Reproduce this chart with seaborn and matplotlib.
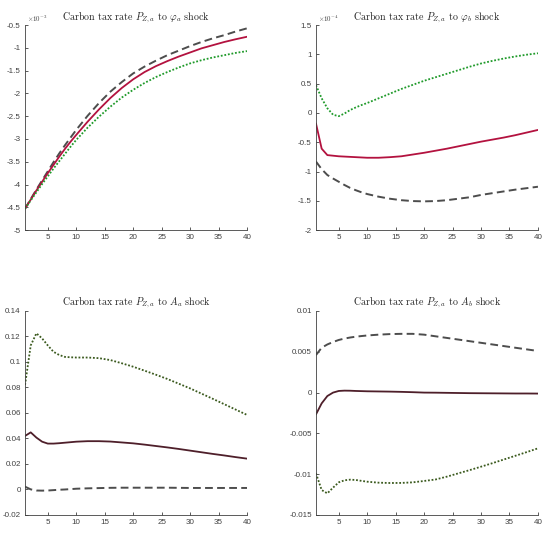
import matplotlib
matplotlib.use("Agg")
import matplotlib.pyplot as plt
import seaborn as sns
from matplotlib.ticker import FormatStrFormatter

periods = [1, 2, 3, 4, 5, 6, 7, 8, 9, 10, 12, 14, 16, 18, 20, 22, 24, 26, 28, 30, 32, 34, 36, 38, 40]

# Panel 1: response to phi_a shock (units of 1e-3)
phia_solid = [-4.53, -4.33, -4.13, -3.94, -3.75, -3.57, -3.39, -3.22, -3.06, -2.91, -2.62, -2.35, -2.10,
              -1.88, -1.69, -1.53, -1.40, -1.29, -1.19, -1.10, -1.01, -0.94, -0.87, -0.81, -0.755]
phia_dashed = [-4.53, -4.32, -4.11, -3.91, -3.71, -3.51, -3.32, -3.14, -2.97, -2.80, -2.49, -2.21, -1.96,
               -1.75, -1.56, -1.41, -1.28, -1.16, -1.06, -0.96, -0.87, -0.79, -0.72, -0.64, -0.57]
phia_dotted = [-4.53, -4.35, -4.17, -3.99, -3.82, -3.65, -3.49, -3.33, -3.17, -3.02, -2.75, -2.51, -2.29,
               -2.09, -1.92, -1.77, -1.64, -1.53, -1.43, -1.34, -1.27, -1.21, -1.16, -1.11, -1.07]

# Panel 2: response to phi_b shock (units of 1e-4)
phib_solid = [-0.18, -0.61, -0.72, -0.73, -0.74, -0.745, -0.75, -0.755, -0.76, -0.765, -0.765, -0.755, -0.74,
              -0.71, -0.68, -0.645, -0.61, -0.57, -0.53, -0.49, -0.455, -0.42, -0.38, -0.335, -0.29]
phib_dashed = [-0.83, -0.96, -1.06, -1.12, -1.175, -1.23, -1.28, -1.32, -1.355, -1.385, -1.43, -1.465, -1.49,
               -1.505, -1.51, -1.505, -1.49, -1.465, -1.44, -1.40, -1.37, -1.34, -1.31, -1.285, -1.26]
phib_dotted = [0.475, 0.25, 0.08, -0.03, -0.055, -0.01, 0.05, 0.095, 0.135, 0.17, 0.25, 0.33, 0.41,
               0.48, 0.55, 0.61, 0.67, 0.73, 0.79, 0.845, 0.89, 0.93, 0.965, 0.995, 1.02]

# Panel 3: response to A_a shock
aa_solid = [0.042, 0.0448, 0.0407, 0.0375, 0.036, 0.036, 0.0363, 0.0367, 0.0371, 0.0375, 0.0379, 0.0379, 0.0376,
            0.0369, 0.0362, 0.0352, 0.0341, 0.033, 0.0318, 0.0305, 0.0292, 0.0279, 0.0267, 0.0254, 0.0242]
aa_dashed = [0.0022, 0.0001, -0.0008, -0.0009, -0.0008, -0.0005, -0.0002, 0.0, 0.0003, 0.0006, 0.0009, 0.0011,
             0.0013, 0.0014, 0.0014, 0.0014, 0.0014, 0.0014, 0.0013, 0.0012, 0.0012, 0.0012, 0.0012, 0.0012, 0.0012]
aa_dotted = [0.082, 0.113, 0.1225, 0.1185, 0.113, 0.108, 0.1055, 0.104, 0.1037, 0.1035, 0.1035, 0.103, 0.1015,
             0.099, 0.0963, 0.0932, 0.090, 0.0867, 0.083, 0.0793, 0.0752, 0.0711, 0.0669, 0.0627, 0.0585]

# Panel 4: response to A_b shock
ab_solid = [-0.00267, -0.00132, -0.00042, 0.0, 0.0002, 0.00024, 0.00023, 0.0002, 0.00018, 0.00016, 0.00014,
            0.00012, 0.00009, 0.00005, 0.0, -0.00001, -0.00003, -0.00005, -0.00007, -0.00008, -0.00009,
            -0.0001, -0.00011, -0.00011, -0.00012]
ab_dashed = [0.0046, 0.0055, 0.0059, 0.0062, 0.00645, 0.00662, 0.00675, 0.00685, 0.00693, 0.0070, 0.0071,
             0.00717, 0.0072, 0.0072, 0.0071, 0.0069, 0.0067, 0.0065, 0.0063, 0.0061, 0.0059, 0.0057,
             0.0055, 0.0053, 0.0051]
ab_dotted = [-0.0099, -0.01194, -0.01235, -0.01165, -0.0110, -0.01075, -0.01067, -0.01071, -0.01082, -0.01092,
             -0.01104, -0.01108, -0.01107, -0.0110, -0.01083, -0.01065, -0.0103, -0.0099, -0.0095, -0.00908,
             -0.00865, -0.0082, -0.00775, -0.0073, -0.00683]

titles = [
    r"Carbon tax rate $P_{Z,a}$ to $\varphi_a$ shock",
    r"Carbon tax rate $P_{Z,a}$ to $\varphi_b$ shock",
    r"Carbon tax rate $P_{Z,a}$ to $A_a$ shock",
    r"Carbon tax rate $P_{Z,a}$ to $A_b$ shock",
]
multipliers = [r"$\times10^{-3}$", r"$\times10^{-4}$", None, None]
ylims = [(-5, -0.5), (-2, 1.5), (-0.02, 0.14), (-0.015, 0.01)]
yticks = [
    [-5, -4.5, -4, -3.5, -3, -2.5, -2, -1.5, -1, -0.5],
    [-2, -1.5, -1, -0.5, 0, 0.5, 1, 1.5],
    [-0.02, 0, 0.02, 0.04, 0.06, 0.08, 0.1, 0.12, 0.14],
    [-0.015, -0.01, -0.005, 0, 0.005, 0.01],
]
panels = [
    (phia_solid, phia_dashed, phia_dotted),
    (phib_solid, phib_dashed, phib_dotted),
    (aa_solid, aa_dashed, aa_dotted),
    (ab_solid, ab_dashed, ab_dotted),
]
# top row lines are brighter, bottom row darker
solid_colors = ["#b3123f", "#b3123f", "#4e1f2a", "#4e1f2a"]
dotted_colors = ["#1f9a2a", "#1f9a2a", "#3b5a1e", "#3b5a1e"]
dash_color = "#4d4d4d"

sns.set_theme(style="ticks")
plt.rcParams["font.family"] = ["Liberation Sans", "DejaVu Sans"]
plt.rcParams["axes.unicode_minus"] = False
plt.rcParams["mathtext.fontset"] = "cm"

fig = plt.figure(figsize=(5.5, 5.35), dpi=100)
positions = [
    [0.0455, 0.570, 0.4036, 0.383],
    [0.5745, 0.570, 0.4036, 0.383],
    [0.0455, 0.0374, 0.4036, 0.3813],
    [0.5745, 0.0374, 0.4036, 0.3813],
]

for i, pos in enumerate(positions):
    ax = fig.add_axes(pos)
    solid, dashed, dotted = panels[i]
    sns.lineplot(x=periods, y=dashed, ax=ax, color=dash_color, linestyle=(0, (4, 2.2)), linewidth=1.4)
    sns.lineplot(x=periods, y=solid, ax=ax, color=solid_colors[i], linewidth=1.3)
    sns.lineplot(x=periods, y=dotted, ax=ax, color=dotted_colors[i], linestyle=(0, (1, 1)), linewidth=1.3)

    ax.set_xlim(1, 40)
    ax.set_ylim(*ylims[i])
    ax.set_xticks([5, 10, 15, 20, 25, 30, 35, 40])
    ax.set_yticks(yticks[i])
    ax.yaxis.set_major_formatter(FormatStrFormatter("%g"))
    ax.xaxis.set_major_formatter(FormatStrFormatter("%g"))
    ax.tick_params(direction="in", length=2.5, width=0.6, labelsize=5.8,
                   colors="#404040", pad=3)
    for side in ["left", "bottom"]:
        ax.spines[side].set_color("#404040")
        ax.spines[side].set_linewidth(0.6)
    sns.despine(ax=ax)
    ax.set_title(titles[i], fontsize=7.2, family="cmr10", pad=4)
    if multipliers[i]:
        ax.text(0.01, 1.005, multipliers[i], transform=ax.transAxes, fontsize=5,
                color="#404040", ha="left", va="bottom")

fig.savefig("out.png", dpi=100)
